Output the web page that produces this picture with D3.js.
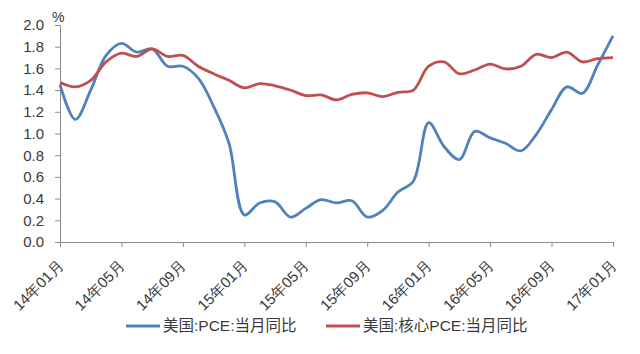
<!DOCTYPE html>
<html>
<head>
<meta charset="utf-8">
<script src="https://cdn.jsdelivr.net/npm/d3@7"></script>
<style>
  body { margin: 0; background: #fff; }
  #chart { width: 640px; height: 354px; }
</style>
</head>
<body>
<div id="chart"></div>
<script>
(function() {
  const months = d3.range(37).map(i => {
    const y = 14 + Math.floor(i / 12);
    const m = (i % 12) + 1;
    return `${y}年${String(m).padStart(2, "0")}月`;
  });
  const tickLabels = ["14年01月", "14年05月", "14年09月", "15年01月", "15年05月", "15年09月",
                      "16年01月", "16年05月", "16年09月", "17年01月"];
  const yTicks = [0, 0.2, 0.4, 0.6, 0.8, 1.0, 1.2, 1.4, 1.6, 1.8, 2.0];

  const pce = [1.45, 1.13, 1.40, 1.72, 1.83, 1.75, 1.78, 1.62, 1.62, 1.51,
               1.25, 0.91, 0.25, 0.36, 0.37, 0.23, 0.31, 0.39, 0.36, 0.38,
               0.23, 0.29, 0.46, 0.56, 1.10, 0.88, 0.76, 1.02, 0.96, 0.91,
               0.84, 0.99, 1.22, 1.43, 1.37, 1.63, 1.90];
  const corePce = [1.47, 1.43, 1.49, 1.66, 1.74, 1.71, 1.78, 1.71, 1.72, 1.62,
                   1.55, 1.49, 1.42, 1.46, 1.44, 1.40, 1.35, 1.355, 1.31, 1.36,
                   1.375, 1.34, 1.38, 1.40, 1.62, 1.66, 1.55, 1.585, 1.64, 1.595,
                   1.62, 1.73, 1.70, 1.75, 1.66, 1.69, 1.70];

  const seriesNames = ["美国:PCE:当月同比", "美国:核心PCE:当月同比"];
  const colors = ["#4f81bd", "#c0504d"];

  const width = 640, height = 354;
  const left = 60, right = 613, top = 25, bottom = 242;

  const svg = d3.select("#chart").append("svg")
    .attr("width", width).attr("height", height)
    .style("font-family", "'Liberation Sans', 'Noto Sans CJK SC', sans-serif");

  const x = d3.scalePoint().domain(months).range([left, right]);
  const y = d3.scaleLinear().domain([0, 2]).range([bottom, top]);

  const axisColor = "#8c8c8c";
  const textColor = "#3a3a3a";

  // y axis
  const yAxis = svg.append("g")
    .attr("transform", `translate(${left},0)`)
    .call(d3.axisLeft(y).tickValues(yTicks).tickSize(5).tickPadding(11).tickFormat(d3.format(".1f")));
  yAxis.select(".domain").attr("stroke", axisColor);
  yAxis.selectAll(".tick line").attr("stroke", axisColor);
  yAxis.selectAll(".tick text").attr("fill", textColor).style("font-size", "15px");

  // x axis
  const xAxis = svg.append("g")
    .attr("transform", `translate(0,${bottom})`)
    .call(d3.axisBottom(x).tickValues(tickLabels).tickSize(5).tickSizeOuter(0));
  xAxis.select(".domain").attr("stroke", axisColor);
  xAxis.selectAll(".tick line").attr("stroke", axisColor);
  xAxis.selectAll(".tick text")
    .attr("fill", textColor)
    .style("font-size", "15px")
    .attr("text-anchor", "end")
    .attr("transform", "translate(0,21) rotate(-45)")
    .attr("x", 0).attr("y", 0).attr("dy", "0.35em");

  svg.append("text")
    .attr("x", 52).attr("y", 22)
    .attr("fill", textColor)
    .style("font-size", "14px")
    .text("%");

  const line = d3.line()
    .x((d, i) => x(months[i]))
    .y(d => y(d))
    .curve(d3.curveCatmullRom.alpha(0.5));

  [pce, corePce].forEach((s, k) => {
    svg.append("path")
      .datum(s)
      .attr("fill", "none")
      .attr("stroke", colors[k])
      .attr("stroke-width", 2.8)
      .attr("d", line);
  });

  // legend
  const legendX = [126, 326];
  seriesNames.forEach((name, k) => {
    const g = svg.append("g").attr("transform", `translate(${legendX[k]},326)`);
    g.append("line")
      .attr("x1", 0).attr("x2", 34)
      .attr("stroke", colors[k]).attr("stroke-width", 2.8);
    g.append("text")
      .attr("x", 37).attr("dy", "0.35em")
      .attr("fill", textColor)
      .style("font-size", "15.5px")
      .text(name);
  });
})();
</script>
</body>
</html>
